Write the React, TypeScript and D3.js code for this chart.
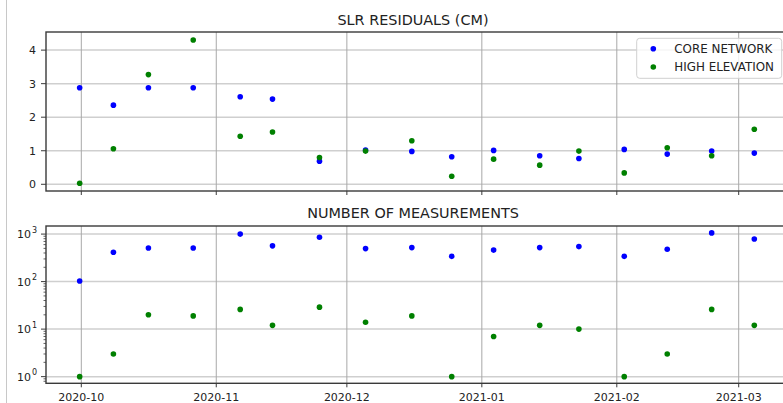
import * as d3 from "d3";

// observation epochs (UTC)
const epochs = [
  "2020-09-30T15:00Z", "2020-10-08T09:00Z", "2020-10-16T10:00Z", "2020-10-26T17:00Z",
  "2020-11-06T12:00Z", "2020-11-13T22:00Z", "2020-11-24T17:00Z", "2020-12-05T07:00Z",
  "2020-12-15T22:00Z", "2020-12-25T02:00Z", "2021-01-03T17:00Z", "2021-01-14T07:00Z",
  "2021-01-23T07:00Z", "2021-02-02T17:00Z", "2021-02-12T14:00Z", "2021-02-22T19:00Z",
  "2021-03-04T14:00Z",
];

const residCore = [2.88, 2.36, 2.88, 2.88, 2.61, 2.54, 0.69, 1.02, 0.98, 0.82, 1.01, 0.85, 0.77, 1.04, 0.9, 0.99, 0.93];
const residHigh = [0.03, 1.06, 3.27, 4.3, 1.43, 1.56, 0.8, 0.99, 1.3, 0.24, 0.75, 0.57, 0.99, 0.34, 1.09, 0.85, 1.64];

const countCore = [103, 415, 510, 510, 1000, 565, 860, 495, 520, 340, 460, 520, 545, 340, 480, 1060, 790];
const countHigh = [1, 3, 20, 19, 26, 12, 29, 14, 19, 1, 7, 12, 10, 1, 3, 26, 12];

const residTicks = [0, 1, 2, 3, 4];
const countTicks = [1, 10, 100, 1000];
const monthTicks = ["2020-10-01", "2020-11-01", "2020-12-01", "2021-01-01", "2021-02-01", "2021-03-01"];

const seriesNames = ["CORE NETWORK", "HIGH ELEVATION"];
const seriesColors = ["#0000ff", "#008000"];

const W = 783;
const H = 403;
const left = 46;
const right = 784;
const top1 = 32, bot1 = 191;
const top2 = 226, bot2 = 383.3;
const font = "DejaVu Sans, sans-serif";
const spine = "#3a3a3a";

export default function App() {
  const dates = epochs.map((d) => new Date(d));
  const months = monthTicks.map((d) => new Date(d + "T00:00Z"));

  const x = d3.scaleUtc()
    .domain([months[0], months[5]])
    .range([81.3, 738.7]);

  const y1 = d3.scaleLinear().domain([-0.2, 4.54]).range([bot1, top1]);
  const y2 = d3.scaleLog().domain([Math.pow(10, -0.14), Math.pow(10, 3.17)]).range([bot2, top2]);

  const minor: number[] = [];
  for (let e = -1; e <= 3; e++) {
    for (let m = 2; m <= 9; m++) {
      const v = m * Math.pow(10, e);
      if (v >= y2.domain()[0] && v <= y2.domain()[1]) minor.push(v);
    }
  }

  const fmt = d3.utcFormat("%Y-%m");

  const frame = (t: number, b: number) => (
    <rect x={left} y={t} width={right - left} height={b - t} fill="none" stroke={spine} strokeWidth={1.4} />
  );

  const vgrid = (t: number, b: number) =>
    months.map((m, i) => (
      <line key={"v" + i} x1={x(m)} x2={x(m)} y1={t} y2={b} stroke="#a8a8a8" strokeWidth={1} />
    ));

  const xTickMarks = (b: number) =>
    months.map((m, i) => (
      <line key={"xt" + i} x1={x(m)} x2={x(m)} y1={b} y2={b + 4} stroke={spine} strokeWidth={1} />
    ));

  const dots = (vals: number[], ys: (v: number) => number, color: string, key: string) =>
    vals.map((v, i) => (
      <circle key={key + i} cx={x(dates[i])} cy={ys(v)} r={2.8} fill={color} />
    ));

  return (
    <div>
      <style>{`body{margin:0}`}</style>
      <svg width={W} height={H} style={{ display: "block", background: "#fff" }} fontFamily={font}>
        <line x1={6.5} x2={6.5} y1={0} y2={H} stroke="#c8c8c8" strokeWidth={1} />

        {/* Top panel: residuals */}
        <text x={(left + right) / 2 - 2} y={25} textAnchor="middle" fontSize={14.4} fill="#222">
          SLR RESIDUALS (CM)
        </text>
        {residTicks.map((t) => (
          <g key={"r" + t}>
            <line x1={left} x2={right} y1={y1(t)} y2={y1(t)} stroke="#cfcfcf" strokeWidth={1.5} />
            <line x1={left - 5} x2={left} y1={y1(t)} y2={y1(t)} stroke={spine} strokeWidth={1} />
            <text x={36} y={y1(t) + 4} textAnchor="end" fontSize={11} fill="#222">{t}</text>
          </g>
        ))}
        {vgrid(top1, bot1)}
        {xTickMarks(bot1)}
        {dots(residCore, y1, seriesColors[0], "rc")}
        {dots(residHigh, y1, seriesColors[1], "rh")}
        {frame(top1, bot1)}

        {/* Legend */}
        <rect x={636.7} y={38.3} width={145} height={40} rx={3} fill="#fff" fillOpacity={0.8} stroke="#d0d0d0" strokeWidth={1} />
        {seriesNames.map((n, i) => (
          <g key={n}>
            <circle cx={653.3} cy={48.7 + i * 18.3} r={2.8} fill={seriesColors[i]} />
            <text x={674.3} y={48.7 + i * 18.3 + 4.3} fontSize={11.9} fill="#222">{n}</text>
          </g>
        ))}

        {/* Bottom panel: counts */}
        <text x={(left + right) / 2 - 2} y={217.5} textAnchor="middle" fontSize={14.4} fill="#222">
          NUMBER OF MEASUREMENTS
        </text>
        {countTicks.map((t) => (
          <g key={"c" + t}>
            <line x1={left} x2={right} y1={y2(t)} y2={y2(t)} stroke="#cfcfcf" strokeWidth={1.5} />
            <line x1={left - 5} x2={left} y1={y2(t)} y2={y2(t)} stroke={spine} strokeWidth={1} />
            <text x={31} y={y2(t) + 4} textAnchor="end" fontSize={11} fill="#222">10</text>
            <text x={32} y={y2(t) - 1.5} textAnchor="start" fontSize={8} fill="#222">
              {Math.round(Math.log10(t))}
            </text>
          </g>
        ))}
        {minor.map((t, i) => (
          <line key={"m" + i} x1={left - 2.5} x2={left} y1={y2(t)} y2={y2(t)} stroke={spine} strokeWidth={0.8} />
        ))}
        {vgrid(top2, bot2)}
        {xTickMarks(bot2)}
        {dots(countCore, y2, seriesColors[0], "cc")}
        {dots(countHigh, y2, seriesColors[1], "ch")}
        {frame(top2, bot2)}

        {months.map((m, i) => (
          <text key={"xl" + i} x={x(m)} y={400.5} textAnchor="middle" fontSize={11} fill="#222">
            {fmt(m)}
          </text>
        ))}
      </svg>
    </div>
  );
}
